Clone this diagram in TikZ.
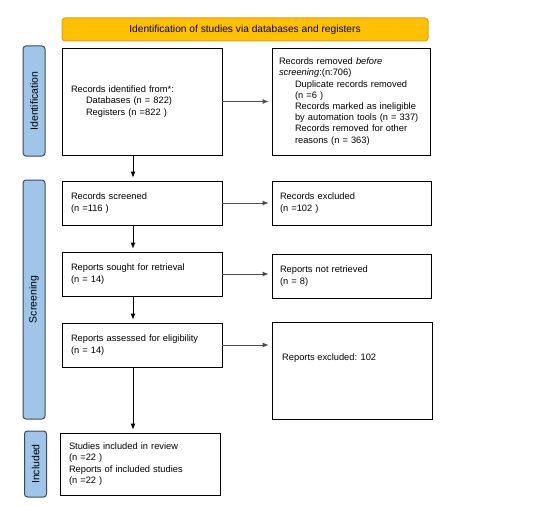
\documentclass[tikz,border=0pt]{standalone}
\usepackage{fontspec}
\setmainfont{Liberation Sans}
\usetikzlibrary{arrows.meta}
\definecolor{bannerfill}{HTML}{FFC000}
\definecolor{bannerdraw}{HTML}{D9A21B}
\definecolor{sidefill}{HTML}{9FC5E8}
\definecolor{sidedraw}{HTML}{3E4A5A}
\begin{document}
\begin{tikzpicture}[x=1pt,y=-1pt,
  every node/.style={font=\fontsize{9.3}{11.2}\selectfont},
  box/.style={draw=black,line width=0.8pt,rectangle,align=left,inner xsep=9pt,inner ysep=2pt,text width=142pt,minimum width=160pt},
  side/.style={draw=sidedraw,fill=sidefill,line width=1pt,rounded corners=3pt,rotate=90,minimum height=22pt,inner sep=0pt,font=\fontsize{10.5}{12}\selectfont},
  banner/.style={draw=bannerdraw,fill=bannerfill,line width=1pt,rounded corners=3pt,minimum width=366pt,minimum height=23pt,font=\fontsize{10.2}{12}\selectfont},
  arr/.style={-{Latex[length=6pt,width=5pt]},line width=0.8pt,shorten >=3pt},
  harr/.style={arr,draw=black!70}
]
\useasboundingbox (0,0) rectangle (534,505);
\node[banner] (ban) at (245,29.5) {Identification of studies via databases and registers};
\node[side,minimum width=110pt] (sI) at (34,101) {Identification};
\node[side,minimum width=239pt] (sS) at (34,299.5) {Screening};
\node[side,minimum width=66pt] (sN) at (35.5,464) {Included};

\node[box,minimum height=107pt] (b1) at (142,101.5) {Records identified from*:\\\hspace*{15pt}Databases (n = 822)\\\hspace*{15pt}Registers (n =822 )};
\node[box,inner xsep=7pt,text width=144pt,minimum width=158pt,minimum height=107pt] (b2) at (351,101.5) {Records removed \textit{before}\\\textit{screening}:(n:706)\\\hspace*{16pt}Duplicate records removed\\\hspace*{16pt}(n =6 )\\\hspace*{16pt}Records marked as ineligible\\\hspace*{16pt}by automation tools (n = 337)\\\hspace*{16pt}Records removed for other\\\hspace*{16pt}reasons (n = 363)};
\node[box,minimum height=44pt] (b3) at (142,203) {Records screened\\(n =116 )};
\node[box,inner xsep=8pt,text width=143pt,minimum width=159pt,minimum height=44pt] (b4) at (351.5,203) {Records excluded\\(n =102 )};
\node[box,minimum height=44pt] (b5) at (142,274) {Reports sought for retrieval\\(n = 14)};
\node[box,inner xsep=8pt,text width=143pt,minimum width=159pt,minimum height=44pt] (b6) at (351.5,276) {Reports not retrieved\\(n = 8)};
\node[box,minimum height=44pt] (b7) at (142,345) {Reports assessed for eligibility\\(n = 14)};
\node[box,minimum height=97pt] (b8) at (352,370.5) {};
\node[anchor=west,inner sep=0pt] (t8) at (282,358) {Reports excluded: 102};
\node[box,minimum height=62pt] (b9) at (140,464) {Studies included in review\\(n =22 )\\Reports of included studies\\(n =22 )};

\coordinate (ax) at (133,0);
\draw[arr] (b1.south -| ax) -- (b3.north -| ax);
\draw[arr] (b3.south -| ax) -- (b5.north -| ax);
\draw[arr] (b5.south -| ax) -- (b7.north -| ax);
\draw[arr] (b7.south -| ax) -- (b9.north -| ax);

\draw[harr] (b1.east) -- (b2.west);
\draw[harr] (b3.east) -- (b4.west);
\draw[harr] (b5.east) -- (b5.east -| b6.west);
\draw[harr] (b7.east) -- (b7.east -| b8.west);
\end{tikzpicture}
\end{document}
